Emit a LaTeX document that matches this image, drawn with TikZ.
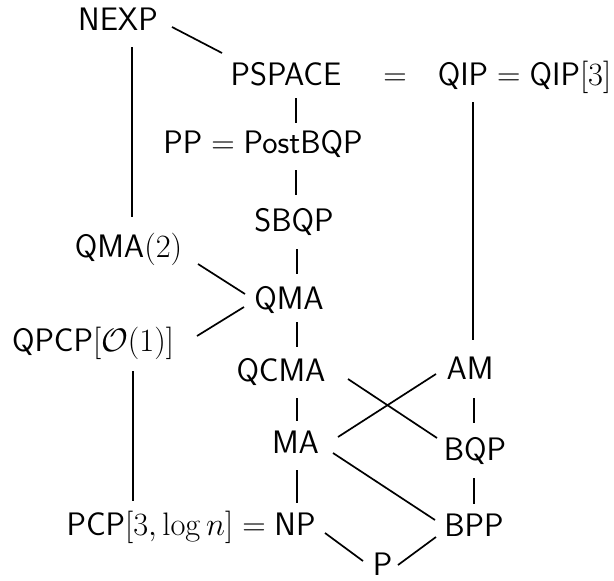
\documentclass[tikz,border=0pt]{standalone}
\usepackage{fix-cm}
\tikzset{
  cls/.style={anchor=base, inner sep=0pt, font=\fontsize{32.5}{38}\selectfont},
  link/.style={line width=1.7pt}
}
\begin{document}
\begin{tikzpicture}[x=1pt,y=-1pt]
\useasboundingbox (0,0) rectangle (614,581);
\node[cls] (nexp) at (118,30) {$\mathsf{NEXP}$};
\node[cls] (pspace) at (286,85) {$\mathsf{PSPACE}$};
\node[cls] (eq) at (395,85) {$=$};
\node[cls] (qip) at (524.5,85) {$\mathsf{QIP} = \mathsf{QIP}[3]$};
\node[cls] (pp) at (263,153) {$\mathsf{PP} = \mathsf{PostBQP}$};
\node[cls] (sbqp) at (294,231) {$\mathsf{SBQP}$};
\node[cls] (qma2) at (128.5,257) {$\mathsf{QMA}(2)$};
\node[cls] (qma) at (289,309) {$\mathsf{QMA}$};
\node[cls] (qpcp) at (93,351) {$\mathsf{QPCP}[\mathcal{O}(1)]$};
\node[cls] (qcma) at (281,381) {$\mathsf{QCMA}$};
\node[cls] (am) at (470,379) {$\mathsf{AM}$};
\node[cls] (ma) at (295.5,453) {$\mathsf{MA}$};
\node[cls] (bqp) at (475,460) {$\mathsf{BQP}$};
\node[cls] (np) at (295,535) {$\mathsf{NP}$};
\node[cls, anchor=base east] (pcp) at (275,535) {$\mathsf{PCP}[3,\log n] = {}$};
\node[cls] (bpp) at (474,536) {$\mathsf{BPP}$};
\node[cls] (p) at (382.5,575) {$\mathsf{P}$};

\draw[link] ([shift={(54,-3)}]nexp.base) -- ([shift={(-64,-32)}]pspace.base);
\draw[link] ([shift={(14,17)}]nexp.base) -- ([shift={(3.5,-40)}]qma2.base);
\draw[link] ([shift={(10,13)}]pspace.base) -- ([shift={(33,-30)}]pp.base);
\draw[link] ([shift={(33,17)}]pp.base) -- ([shift={(2,-36)}]sbqp.base);
\draw[link] ([shift={(3,18)}]sbqp.base) -- ([shift={(8,-35)}]qma.base);
\draw[link] ([shift={(69.5,7)}]qma2.base) -- ([shift={(-44,-15)}]qma.base);
\draw[link] ([shift={(104,-15)}]qpcp.base) -- ([shift={(-45,-2)}]qma.base);
\draw[link] ([shift={(8,13)}]qma.base) -- ([shift={(16,-34)}]qcma.base);
\draw[link] ([shift={(-51.5,17)}]qip.base) -- ([shift={(3,-39)}]am.base);
\draw[link, shorten >=34pt] ([shift={(40,20)}]qpcp.base) -- ([xshift=40pt]qpcp.base |- pcp.base);
\draw[link] ([shift={(16,17)}]qcma.base) -- ([shift={(1.5,-32)}]ma.base);
\draw[link] ([shift={(67,-2)}]qcma.base) -- ([shift={(-38,-22)}]bqp.base);
\draw[link] ([shift={(-34,-5)}]am.base) -- ([shift={(42.5,-16)}]ma.base);
\draw[link] ([shift={(4,19)}]am.base) -- ([shift={(-1,-37)}]bqp.base);
\draw[link] ([shift={(1.5,17)}]ma.base) -- ([shift={(2,-32)}]np.base);
\draw[link] ([shift={(37.5,0)}]ma.base) -- ([shift={(-39,-16)}]bpp.base);
\draw[link] ([shift={(-1,18)}]bqp.base) -- ([shift={(0,-32)}]bpp.base);
\draw[link] ([shift={(30,-2)}]np.base) -- ([shift={(-19.5,-14)}]p.base);
\draw[link] ([shift={(15.5,-10)}]p.base) -- ([shift={(-38,1)}]bpp.base);
\end{tikzpicture}
\end{document}
